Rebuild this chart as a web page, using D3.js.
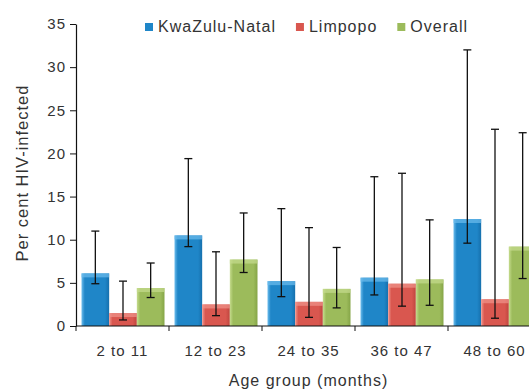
<!DOCTYPE html>
<html>
<head>
<meta charset="utf-8">
<script src="https://cdn.jsdelivr.net/npm/d3@7"></script>
<style>
  body { margin: 0; background: #fff; }
  text { font-family: "Liberation Sans", Arial, sans-serif; fill: #333; letter-spacing: 1px; }
</style>
</head>
<body>
<div id="chart"></div>
<script>
// data
var categories = ["2 to 11", "12 to 23", "24 to 35", "36 to 47", "48 to 60"];
var seriesNames = ["KwaZulu-Natal", "Limpopo", "Overall"];
var kzn   = [6.1, 10.5, 5.2, 5.6, 12.4];
var kznLo = [4.9, 9.2, 3.4, 3.6, 9.6];
var kznHi = [11.0, 19.4, 13.6, 17.3, 32.0];
var lim   = [1.5, 2.5, 2.8, 4.9, 3.1];
var limLo = [0.7, 1.2, 1.0, 2.3, 0.9];
var limHi = [5.2, 8.6, 11.4, 17.7, 22.8];
var ovr   = [4.4, 7.7, 4.3, 5.4, 9.2];
var ovrLo = [3.3, 6.2, 2.1, 2.4, 5.5];
var ovrHi = [7.3, 13.1, 9.1, 12.3, 22.4];
var yTicks = [0, 5, 10, 15, 20, 25, 30, 35];

var colors = {
  "KwaZulu-Natal": ["#6cbcec", "#1f86c8", "#1670ad"],
  "Limpopo": ["#f0948b", "#d9574f", "#bf453e"],
  "Overall": ["#c6dc8e", "#9cbb5b", "#85a547"]
};

var W = 529, H = 392;
var plotLeft = 76, plotBottom = 326, plotTop = 24;
var bandW = 93;

var rows = [];
categories.forEach(function (c, i) {
  rows.push({cat: c, s: "KwaZulu-Natal", v: kzn[i], lo: kznLo[i], hi: kznHi[i]});
  rows.push({cat: c, s: "Limpopo", v: lim[i], lo: limLo[i], hi: limHi[i]});
  rows.push({cat: c, s: "Overall", v: ovr[i], lo: ovrLo[i], hi: ovrHi[i]});
});

var svg = d3.select("#chart").append("svg")
  .attr("width", W).attr("height", H);

var defs = svg.append("defs");
seriesNames.forEach(function (s, i) {
  var g = defs.append("linearGradient").attr("id", "grad" + i)
    .attr("x1", 0).attr("x2", 1).attr("y1", 0).attr("y2", 0);
  g.append("stop").attr("offset", "0%").attr("stop-color", colors[s][0]);
  g.append("stop").attr("offset", "12%").attr("stop-color", colors[s][1]);
  g.append("stop").attr("offset", "85%").attr("stop-color", colors[s][1]);
  g.append("stop").attr("offset", "100%").attr("stop-color", colors[s][2]);
});

var x = d3.scaleBand().domain(categories).range([plotLeft, plotLeft + bandW * categories.length]);
var xs = d3.scaleBand().domain(seriesNames).range([5.5, bandW - 4.5]);
var y = d3.scaleLinear().domain([0, 35]).range([plotBottom, plotTop]);

// bars
var bars = svg.append("g");
bars.selectAll("rect.bar").data(rows).enter().append("rect")
  .attr("class", "bar")
  .attr("x", function (d) { return x(d.cat) + xs(d.s); })
  .attr("y", function (d) { return y(d.v); })
  .attr("width", xs.bandwidth())
  .attr("height", function (d) { return y(0) - y(d.v); })
  .attr("fill", function (d) { return "url(#grad" + seriesNames.indexOf(d.s) + ")"; });
// lighter top edge (bevel look)
bars.selectAll("rect.hl").data(rows).enter().append("rect")
  .attr("class", "hl")
  .attr("x", function (d) { return x(d.cat) + xs(d.s); })
  .attr("y", function (d) { return y(d.v); })
  .attr("width", xs.bandwidth())
  .attr("height", function (d) { return Math.min(4, y(0) - y(d.v)); })
  .attr("fill", function (d) { return colors[d.s][0]; })
  .attr("opacity", 0.7);

// error bars
var err = svg.append("g").attr("stroke", "#111").attr("stroke-width", 1.3);
err.selectAll("line.v").data(rows).enter().append("line")
  .attr("class", "v")
  .attr("x1", function (d) { return x(d.cat) + xs(d.s) + xs.bandwidth() / 2; })
  .attr("x2", function (d) { return x(d.cat) + xs(d.s) + xs.bandwidth() / 2; })
  .attr("y1", function (d) { return y(d.lo); })
  .attr("y2", function (d) { return y(d.hi); });
["lo", "hi"].forEach(function (k) {
  err.selectAll("line.c" + k).data(rows).enter().append("line")
    .attr("class", "c" + k)
    .attr("x1", function (d) { return x(d.cat) + xs(d.s) + xs.bandwidth() / 2 - 4; })
    .attr("x2", function (d) { return x(d.cat) + xs(d.s) + xs.bandwidth() / 2 + 4; })
    .attr("y1", function (d) { return y(d[k]); })
    .attr("y2", function (d) { return y(d[k]); });
});

// y axis
var yAxis = svg.append("g").attr("transform", "translate(" + plotLeft + ",0)")
  .call(d3.axisLeft(y).tickValues(yTicks).tickSize(6).tickSizeOuter(0).tickPadding(4));
yAxis.select(".domain").attr("stroke", "#111").attr("stroke-width", 1.2);
yAxis.selectAll(".tick line").attr("stroke", "#111");
yAxis.selectAll("text").attr("font-size", 15).attr("fill", "#333")
  .attr("font-family", "Liberation Sans, Arial, sans-serif");

// x axis
svg.append("line").attr("x1", plotLeft).attr("x2", W).attr("y1", y(0)).attr("y2", y(0))
  .attr("stroke", "#111").attr("stroke-width", 1.2);
svg.append("g").selectAll("line").data(categories).enter().append("line")
  .attr("x1", function (d) { return x(d); }).attr("x2", function (d) { return x(d); })
  .attr("y1", y(0)).attr("y2", y(0) + 5)
  .attr("stroke", "#111");
svg.append("g").selectAll("text").data(categories).enter().append("text")
  .attr("x", function (d) { return x(d) + x.bandwidth() / 2; })
  .attr("y", 356)
  .attr("text-anchor", "middle")
  .attr("font-size", 15)
  .text(function (d) { return d; });

// axis titles
svg.append("text")
  .attr("x", plotLeft + bandW * categories.length / 2)
  .attr("y", 386)
  .attr("text-anchor", "middle")
  .attr("font-size", 16)
  .text("Age group (months)");
svg.append("text")
  .attr("transform", "translate(28,173) rotate(-90)")
  .attr("text-anchor", "middle")
  .attr("font-size", 16.5)
  .text("Per cent HIV-infected");

// legend
var lx = 145;
seriesNames.forEach(function (s) {
  svg.append("rect").attr("x", lx).attr("y", 23).attr("width", 8).attr("height", 8)
    .attr("fill", colors[s][1]);
  var t = svg.append("text").attr("x", lx + 13).attr("y", 31.5)
    .attr("font-size", 16).text(s);
  lx += 13 + t.node().getComputedTextLength() + 20;
});
</script>
</body>
</html>
